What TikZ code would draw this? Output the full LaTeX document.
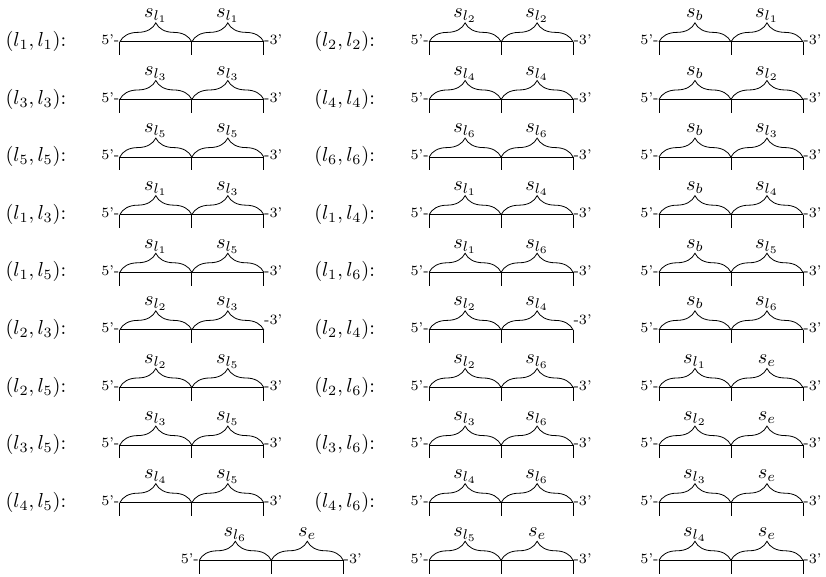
\documentclass[tikz,border=0pt]{standalone}
\usepackage{amsmath,amssymb}
\usepackage{tikz}
\usetikzlibrary{calc}
\usetikzlibrary{decorations.pathreplacing}
\tikzset{
  fio/.style={thin},
  marca/.style={thin},
  chave/.style={decorate, decoration={brace, amplitude=0.33cm}},
  rotulo/.style={anchor=base, inner sep=0pt},
  ponta/.style={font=\scriptsize, inner sep=0pt},
  par/.style={anchor=base west, inner sep=0pt},
}
% #1 subida do 3', #2 nome, #3 x, #4 y, #5 e #6 segmentos
\newcommand{\fita}[6][0]{%
  \coordinate (#2-i) at (#3,#4);
  \coordinate (#2-m) at ($(#2-i)+(1.25,0)$);
  \coordinate (#2-f) at ($(#2-i)+(2.5,0)$);
  \draw[fio] (#2-i) -- (#2-f);
  \draw[marca] (#2-i) -- ++(0,-0.23);
  \draw[marca] (#2-m) -- ++(0,-0.23);
  \draw[marca] (#2-f) -- ++(0,-0.23);
  \draw[chave] (#2-i) -- (#2-m);
  \draw[chave] (#2-m) -- (#2-f);
  \node[rotulo] (#2-e) at ($(#2-i)+(0.625,0.42)$) {$#5$};
  \node[rotulo] (#2-d) at ($(#2-m)+(0.625,0.42)$) {$#6$};
  \node[ponta, anchor=base east] (#2-5) at ($(#2-i)+(0,-0.05)$) {5'-};
  \node[ponta, anchor=base west] (#2-3) at ($(#2-f)+(0,#1-0.05)$) {-3'};
}

\begin{document}
\begin{tikzpicture}
  \useasboundingbox (0,0) rectangle (14.34,10.017);

  % Coluna 1
  \node[par] (p1) at (0.09,9.21) {$(l_1,l_1)$:};
  \fita{a1}{2.08}{9.29}{s_{l_1}}{s_{l_1}}
  \node[par] (p2) at (0.09,8.21) {$(l_3,l_3)$:};
  \fita{a2}{2.08}{8.29}{s_{l_3}}{s_{l_3}}
  \node[par] (p3) at (0.09,7.21) {$(l_5,l_5)$:};
  \fita{a3}{2.08}{7.29}{s_{l_5}}{s_{l_5}}
  \node[par] (p4) at (0.09,6.21) {$(l_1,l_3)$:};
  \fita{a4}{2.08}{6.29}{s_{l_1}}{s_{l_3}}
  \node[par] (p5) at (0.09,5.21) {$(l_1,l_5)$:};
  \fita{a5}{2.08}{5.29}{s_{l_1}}{s_{l_5}}
  \node[par] (p6) at (0.09,4.21) {$(l_2,l_3)$:};
  \fita[0.14]{a6}{2.08}{4.29}{s_{l_2}}{s_{l_3}}
  \node[par] (p7) at (0.09,3.21) {$(l_2,l_5)$:};
  \fita{a7}{2.08}{3.29}{s_{l_2}}{s_{l_5}}
  \node[par] (p8) at (0.09,2.21) {$(l_3,l_5)$:};
  \fita{a8}{2.08}{2.29}{s_{l_3}}{s_{l_5}}
  \node[par] (p9) at (0.09,1.21) {$(l_4,l_5)$:};
  \fita{a9}{2.08}{1.29}{s_{l_4}}{s_{l_5}}
  \fita{a10}{3.46}{0.29}{s_{l_6}}{s_e}

  % Coluna 2
  \node[par] (q1) at (5.45,9.21) {$(l_2,l_2)$:};
  \fita{b1}{7.45}{9.29}{s_{l_2}}{s_{l_2}}
  \node[par] (q2) at (5.45,8.21) {$(l_4,l_4)$:};
  \fita{b2}{7.45}{8.29}{s_{l_4}}{s_{l_4}}
  \node[par] (q3) at (5.45,7.21) {$(l_6,l_6)$:};
  \fita{b3}{7.45}{7.29}{s_{l_6}}{s_{l_6}}
  \node[par] (q4) at (5.45,6.21) {$(l_1,l_4)$:};
  \fita{b4}{7.45}{6.29}{s_{l_1}}{s_{l_4}}
  \node[par] (q5) at (5.45,5.21) {$(l_1,l_6)$:};
  \fita{b5}{7.45}{5.29}{s_{l_1}}{s_{l_6}}
  \node[par] (q6) at (5.45,4.21) {$(l_2,l_4)$:};
  \fita[0.14]{b6}{7.45}{4.29}{s_{l_2}}{s_{l_4}}
  \node[par] (q7) at (5.45,3.21) {$(l_2,l_6)$:};
  \fita{b7}{7.45}{3.29}{s_{l_2}}{s_{l_6}}
  \node[par] (q8) at (5.45,2.21) {$(l_3,l_6)$:};
  \fita{b8}{7.45}{2.29}{s_{l_3}}{s_{l_6}}
  \node[par] (q9) at (5.45,1.21) {$(l_4,l_6)$:};
  \fita{b9}{7.45}{1.29}{s_{l_4}}{s_{l_6}}
  \fita{b10}{7.45}{0.29}{s_{l_5}}{s_e}

  % Coluna 3
  \fita{c1}{11.44}{9.29}{s_b}{s_{l_1}}
  \fita{c2}{11.44}{8.29}{s_b}{s_{l_2}}
  \fita{c3}{11.44}{7.29}{s_b}{s_{l_3}}
  \fita{c4}{11.44}{6.29}{s_b}{s_{l_4}}
  \fita{c5}{11.44}{5.29}{s_b}{s_{l_5}}
  \fita{c6}{11.44}{4.29}{s_b}{s_{l_6}}
  \fita{c7}{11.44}{3.29}{s_{l_1}}{s_e}
  \fita{c8}{11.44}{2.29}{s_{l_2}}{s_e}
  \fita{c9}{11.44}{1.29}{s_{l_3}}{s_e}
  \fita{c10}{11.44}{0.29}{s_{l_4}}{s_e}
\end{tikzpicture}
\end{document}
